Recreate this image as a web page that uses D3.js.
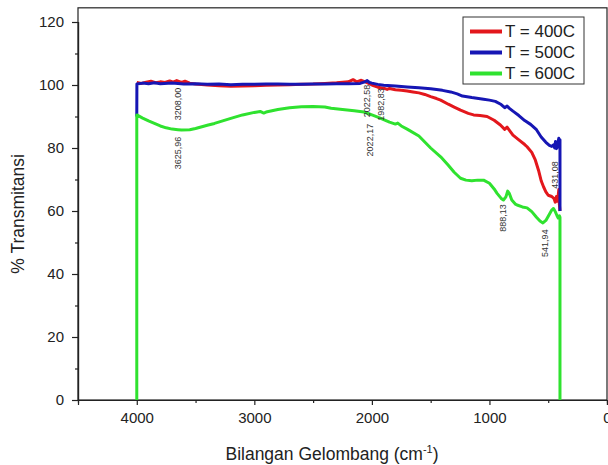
<!DOCTYPE html>
<html>
<head>
<meta charset="utf-8">
<script src="https://cdn.jsdelivr.net/npm/d3@7"></script>
<style>
  html, body { margin: 0; padding: 0; background: #fff; }
  svg { display: block; font-family: "Liberation Sans", Arial, sans-serif; }
</style>
</head>
<body>
<svg id="chart" width="608" height="465"></svg>
<script>
// FTIR spectra, [wavenumber (cm^-1), % transmittance]
const spectrum400 = [
  [4000, 100.8], [3960, 100.5], [3920, 100.9], [3880, 101.2], [3840, 100.7], [3800, 101.0],
  [3760, 100.8], [3720, 101.3], [3690, 100.9], [3660, 101.4], [3620, 100.8], [3590, 101.2],
  [3550, 100.6], [3500, 100.3], [3400, 100.0], [3300, 99.8], [3200, 99.6], [3100, 99.7],
  [3000, 99.8], [2900, 99.9], [2800, 100.0], [2700, 100.1], [2600, 100.2], [2500, 100.3],
  [2400, 100.5], [2300, 100.7], [2200, 101.0], [2160, 101.7], [2130, 101.0], [2090, 101.5],
  [2050, 100.9], [2000, 100.0], [1950, 99.3], [1900, 99.0], [1870, 98.6], [1850, 98.9],
  [1800, 98.5], [1750, 98.3], [1700, 98.1], [1650, 97.8], [1600, 97.5], [1550, 97.0],
  [1500, 96.3], [1450, 95.7], [1415, 95.2], [1350, 93.9], [1300, 93.0], [1246, 92.0],
  [1180, 91.0], [1135, 90.5], [1080, 90.3], [1020, 90.0], [960, 88.8], [907, 87.3],
  [870, 85.9], [850, 86.6], [830, 85.6], [800, 84.1], [750, 82.6], [700, 81.1],
  [680, 80.4], [640, 78.6], [610, 76.2], [580, 72.6], [560, 69.6], [540, 67.7],
  [520, 66.1], [500, 65.0], [470, 64.6], [450, 63.9], [440, 62.8], [430, 64.6],
  [420, 63.1], [410, 66.8], [405, 62.0], [400, 60.0]
];

const spectrum500 = [
  [4000, 90.0], [3999, 100.3], [3950, 100.6], [3900, 100.4], [3850, 100.7], [3800, 100.4],
  [3700, 100.6], [3600, 100.3], [3500, 100.4], [3400, 100.2], [3300, 100.3], [3200, 100.1],
  [3100, 100.2], [3000, 100.2], [2900, 100.3], [2800, 100.3], [2700, 100.2], [2600, 100.2],
  [2500, 100.3], [2400, 100.3], [2300, 100.4], [2200, 100.4], [2100, 100.5], [2060, 101.0],
  [2040, 101.4], [2020, 100.8], [2000, 100.6], [1950, 100.2], [1900, 99.9], [1800, 99.7],
  [1700, 99.4], [1600, 99.1], [1500, 98.8], [1400, 98.3], [1330, 97.8], [1274, 97.2],
  [1230, 96.5], [1150, 96.0], [1050, 95.5], [1000, 95.2], [950, 94.8], [900, 93.8],
  [870, 92.8], [850, 93.3], [830, 92.6], [800, 91.7], [750, 90.3], [700, 88.7],
  [650, 87.5], [600, 85.8], [560, 83.5], [520, 81.8], [490, 80.8], [470, 80.5],
  [455, 81.0], [445, 80.0], [438, 82.1], [430, 79.8], [420, 81.2], [410, 83.1],
  [405, 80.1], [400, 82.6], [400, 60.0]
];

const spectrum600 = [
  [4000, 0], [4000, 90.5], [3950, 89.5], [3900, 88.6], [3850, 87.8], [3800, 87.0],
  [3750, 86.4], [3700, 86.0], [3650, 85.8], [3619, 85.7], [3550, 85.8], [3500, 86.2],
  [3400, 87.2], [3339, 87.8], [3200, 89.4], [3100, 90.5], [3000, 91.3], [2950, 91.6],
  [2920, 91.1], [2900, 91.4], [2800, 92.2], [2700, 92.8], [2600, 93.1], [2500, 93.2],
  [2400, 93.0], [2347, 92.6], [2250, 92.2], [2150, 91.8], [2068, 91.4], [2022, 90.8],
  [2000, 90.5], [1950, 89.8], [1900, 89.0], [1850, 88.2], [1800, 87.6], [1780, 87.9],
  [1750, 87.0], [1700, 86.0], [1600, 83.8], [1500, 80.0], [1415, 77.2], [1350, 74.5],
  [1300, 72.3], [1246, 70.4], [1200, 69.8], [1150, 69.6], [1100, 69.8], [1050, 69.8],
  [1000, 68.8], [960, 67.0], [935, 65.6], [900, 64.0], [881, 63.5], [860, 64.5],
  [845, 66.3], [830, 65.5], [810, 63.5], [780, 62.2], [765, 61.9], [720, 61.3],
  [680, 61.0], [640, 59.8], [600, 58.0], [570, 56.8], [545, 56.2], [520, 57.0],
  [490, 59.0], [470, 60.3], [455, 60.8], [440, 59.8], [425, 58.5], [415, 57.8],
  [405, 58.5], [400, 58.0], [400, 0]
];

const seriesNames = ["T = 400C", "T = 500C", "T = 600C"];
const seriesColors = ["#e3171c", "#1616b4", "#2fe22f"];
const seriesData = [spectrum400, spectrum500, spectrum600];

// Peak labels: text, anchor wavenumber, anchor transmittance
const peakLabels = ["3208,00", "3625,96", "2022,58", "1982,83", "2022,17", "888,13", "541,94", "431,08"];
const peakWn = [3648, 3649, 2042, 1922, 2016, 885, 527, 442];
const peakT = [94.0, 78.4, 94.9, 93.8, 82.5, 57.8, 49.8, 71.4];

const xMajorTicks = [4000, 3000, 2000, 1000, 0];
const xMinorTicks = [3500, 2500, 1500, 500];
const yMajorTicks = [0, 20, 40, 60, 80, 100, 120];
const yMinorTicks = [10, 30, 50, 70, 90, 110];

const svg = d3.select("#chart");
const x = d3.scaleLinear().domain([4500, 0]).range([78, 607]);
const y = d3.scaleLinear().domain([0, 120]).range([400, 22]);
const yTopValue = 124.5;

// Frame
svg.append("rect")
  .attr("x", x(4500)).attr("y", y(yTopValue))
  .attr("width", x(0) - x(4500)).attr("height", y(0) - y(yTopValue))
  .attr("fill", "none").attr("stroke", "#222").attr("stroke-width", 1.2);

// Curves
const line = d3.line().x(d => x(d[0])).y(d => y(d[1]));
const plot = svg.append("g");
seriesData.forEach((data, i) => {
  plot.append("path")
    .datum(data)
    .attr("d", line)
    .attr("fill", "none")
    .attr("stroke", seriesColors[i])
    .attr("stroke-width", 3)
    .attr("stroke-linejoin", "round");
});

// Axes
const xAxis = svg.append("g").attr("transform", `translate(0,${y(0)})`)
  .call(d3.axisBottom(x).tickValues(xMajorTicks).tickSize(5).tickPadding(7).tickFormat(d3.format("d")));
svg.append("g").attr("transform", `translate(0,${y(0)})`)
  .call(d3.axisBottom(x).tickValues(xMinorTicks).tickSize(3).tickFormat(""));
const yAxis = svg.append("g").attr("transform", `translate(${x(4500)},0)`)
  .call(d3.axisLeft(y).tickValues(yMajorTicks).tickSize(6).tickPadding(8).tickFormat(d3.format("d")));
svg.append("g").attr("transform", `translate(${x(4500)},0)`)
  .call(d3.axisLeft(y).tickValues(yMinorTicks).tickSize(3).tickFormat(""));

svg.selectAll(".domain").attr("stroke", "#222").attr("stroke-width", 1.2);
svg.selectAll(".tick line").attr("stroke", "#222").attr("stroke-width", 1.2);
svg.selectAll(".tick text").attr("font-size", 15).attr("fill", "#222")
  .attr("font-family", "'Liberation Sans', Arial, sans-serif");

// Axis titles
svg.append("text")
  .attr("transform", `translate(24,${(y(0) + y(yTopValue)) / 2 + 10}) rotate(-90)`)
  .attr("text-anchor", "middle")
  .attr("font-size", 17.5).attr("fill", "#222")
  .text("% Transmitansi");

const xTitle = svg.append("text")
  .attr("x", 332).attr("y", 460)
  .attr("text-anchor", "middle")
  .attr("font-size", 17.5).attr("fill", "#222");
xTitle.append("tspan").text("Bilangan Gelombang (cm");
xTitle.append("tspan").attr("dy", -7).attr("font-size", 11).text("-1");
xTitle.append("tspan").attr("dy", 7).text(")");

// Peak labels
svg.append("g").selectAll("text")
  .data(peakLabels)
  .join("text")
  .attr("transform", (d, i) => `translate(${x(peakWn[i])},${y(peakT[i])}) rotate(-90)`)
  .attr("text-anchor", "middle")
  .attr("dominant-baseline", "central")
  .attr("font-size", 9).attr("fill", "#333")
  .text(d => d);

// Legend
const legend = svg.append("g");
legend.append("rect")
  .attr("x", 463).attr("y", 17).attr("width", 121).attr("height", 67)
  .attr("fill", "#fff").attr("stroke", "#333").attr("stroke-width", 1);
seriesNames.forEach((name, i) => {
  const cy = 31.5 + i * 21;
  legend.append("line")
    .attr("x1", 470).attr("x2", 502).attr("y1", cy).attr("y2", cy)
    .attr("stroke", seriesColors[i]).attr("stroke-width", 4);
  legend.append("text")
    .attr("x", 505).attr("y", cy).attr("dominant-baseline", "central")
    .attr("font-size", 17).attr("fill", "#222")
    .text(name);
});
</script>
</body>
</html>
